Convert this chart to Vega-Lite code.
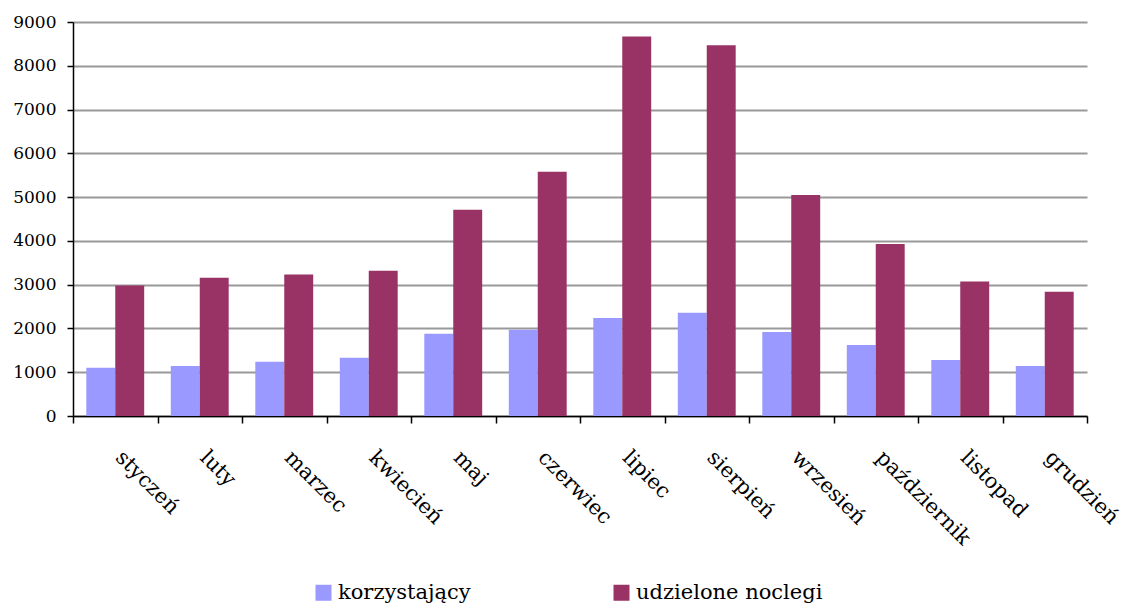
{
  "$schema": "https://vega.github.io/schema/vega-lite/v6.json",
  "width": 1014,
  "height": 394,
  "autosize": {"type": "none"},
  "padding": {"left": 73, "top": 22, "right": 36, "bottom": 190},
  "background": "white",
  "config": {
    "view": {"stroke": null},
    "font": "DejaVu Serif"
  },
  "data": {
    "values": [
      {"month": "styczeń", "series": "korzystający", "value": 1100},
      {"month": "styczeń", "series": "udzielone noclegi", "value": 2980},
      {"month": "luty", "series": "korzystający", "value": 1140},
      {"month": "luty", "series": "udzielone noclegi", "value": 3160},
      {"month": "marzec", "series": "korzystający", "value": 1240},
      {"month": "marzec", "series": "udzielone noclegi", "value": 3230},
      {"month": "kwiecień", "series": "korzystający", "value": 1330},
      {"month": "kwiecień", "series": "udzielone noclegi", "value": 3320},
      {"month": "maj", "series": "korzystający", "value": 1880},
      {"month": "maj", "series": "udzielone noclegi", "value": 4710},
      {"month": "czerwiec", "series": "korzystający", "value": 1970},
      {"month": "czerwiec", "series": "udzielone noclegi", "value": 5580},
      {"month": "lipiec", "series": "korzystający", "value": 2240},
      {"month": "lipiec", "series": "udzielone noclegi", "value": 8670},
      {"month": "sierpień", "series": "korzystający", "value": 2360},
      {"month": "sierpień", "series": "udzielone noclegi", "value": 8470},
      {"month": "wrzesień", "series": "korzystający", "value": 1920},
      {"month": "wrzesień", "series": "udzielone noclegi", "value": 5050},
      {"month": "październik", "series": "korzystający", "value": 1620},
      {"month": "październik", "series": "udzielone noclegi", "value": 3930},
      {"month": "listopad", "series": "korzystający", "value": 1280},
      {"month": "listopad", "series": "udzielone noclegi", "value": 3070},
      {"month": "grudzień", "series": "korzystający", "value": 1140},
      {"month": "grudzień", "series": "udzielone noclegi", "value": 2840}
    ]
  },
  "mark": {"type": "bar"},
  "encoding": {
    "x": {
      "field": "month",
      "type": "nominal",
      "sort": null,
      "scale": {"paddingInner": 0, "paddingOuter": 0},
      "axis": {
        "title": null,
        "tickBand": "extent",
        "domainColor": "black",
        "domainWidth": 1.5,
        "tickColor": "black",
        "tickWidth": 1.5,
        "tickSize": 7,
        "labelAngle": 45,
        "labelAlign": "left",
        "labelBaseline": "middle",
        "labelPadding": 31,
        "labelOffset": 3,
        "labelFont": "DejaVu Serif",
        "labelFontSize": 21,
        "labelColor": "black",
        "labelOverlap": false
      }
    },
    "xOffset": {"field": "series", "type": "nominal", "scale": {"paddingInner": 0, "paddingOuter": 0.46}},
    "y": {
      "field": "value",
      "type": "quantitative",
      "scale": {"domain": [0, 9000], "nice": false},
      "axis": {
        "title": null,
        "values": [0, 1000, 2000, 3000, 4000, 5000, 6000, 7000, 8000, 9000],
        "format": "d",
        "grid": true,
        "gridColor": "#999999",
        "gridWidth": 2,
        "domainColor": "black",
        "domainWidth": 1.5,
        "tickColor": "black",
        "tickWidth": 1.5,
        "tickSize": 6,
        "labelPadding": 11,
        "labelFont": "DejaVu Serif",
        "labelFontSize": 17,
        "labelColor": "black"
      }
    },
    "color": {
      "field": "series",
      "type": "nominal",
      "scale": {"domain": ["korzystający", "udzielone noclegi"], "range": ["#9999FF", "#993366"]},
      "legend": {
        "title": null,
        "orient": "none",
        "legendX": 240,
        "legendY": 560,
        "direction": "horizontal",
        "symbolType": "square",
        "symbolSize": 256,
        "symbolStrokeWidth": 0,
        "symbolOpacity": 1,
        "labelFont": "DejaVu Serif",
        "labelFontSize": 21,
        "labelColor": "black",
        "labelOffset": 4,
        "labelLimit": 300,
        "columnPadding": 140
      }
    }
  }
}
